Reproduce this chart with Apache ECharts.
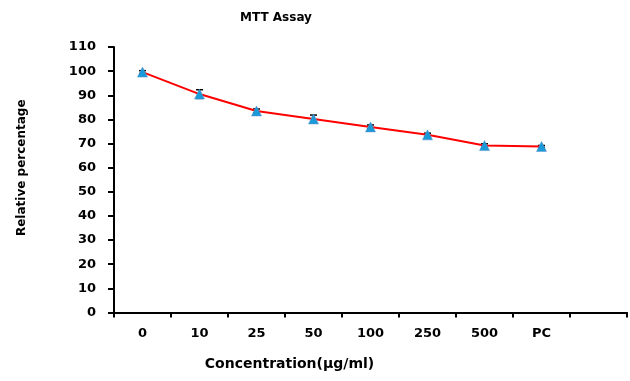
<!DOCTYPE html>
<html><head><meta charset="utf-8">
<script src="https://cdn.jsdelivr.net/npm/echarts@6/dist/echarts.min.js"></script>
<style>html,body{margin:0;padding:0;background:#fff}#c{width:630px;height:381px}</style>
</head><body><div id="c"></div>
<script>
var categories = ['0','10','25','50','100','250','500','PC',''];
var values = [99.6, 90.5, 83.5, 80.2, 76.9, 73.6, 69.2, 68.8];
var errors = [0.6, 1.8, 0.8, 1.6, 0.8, 0.7, 0.7, 0.4];
var yTicks = [0,10,20,30,40,50,60,70,80,90,100,110];

var font = 'DejaVu Sans';
var chart = echarts.init(document.getElementById('c'));
var errData = values.map(function(v,i){ return [i, v - errors[i], v + errors[i]]; });
chart.setOption({
  animation: false,
  title: { text: 'MTT Assay', left: 271, top: 7, textAlign: 'center',
    textStyle: { fontFamily: font, fontSize: 12, fontWeight: 'bold', color: '#000' } },
  grid: { left: 114, right: 3, top: 47, bottom: 68.5 },
  xAxis: {
    type: 'category', data: categories, boundaryGap: true,
    name: 'Concentration(μg/ml)', nameLocation: 'middle', nameGap: 45,
    nameTextStyle: { fontFamily: font, fontSize: 14, fontWeight: 'bold', color: '#000', padding: [0, 162, 0, 0] },
    axisLine: { lineStyle: { color: '#000', width: 2 } },
    axisTick: { show: true, length: 5, lineStyle: { color: '#000', width: 2 } },
    axisLabel: { fontFamily: font, fontSize: 13, fontWeight: 'bold', color: '#000', margin: 15 },
    splitLine: { show: false }
  },
  yAxis: {
    type: 'value', min: yTicks[0], max: yTicks[yTicks.length-1], interval: 10,
    name: 'Relative percentage', nameLocation: 'middle', nameGap: 86, nameRotate: 90,
    nameTextStyle: { fontFamily: font, fontSize: 12, fontWeight: 'bold', color: '#000', padding: [0, 0, 0, 24] },
    axisLine: { show: true, lineStyle: { color: '#000', width: 2 } },
    axisTick: { show: true, length: 6, lineStyle: { color: '#000', width: 2 } },
    axisLabel: { fontFamily: font, fontSize: 13, fontWeight: 'bold', color: '#000', margin: 18 },
    splitLine: { show: false }
  },
  series: [
    {
      type: 'custom', z: 1, data: errData,
      renderItem: function(params, api){
        var hi = api.coord([api.value(0), api.value(2)]);
        var lo = api.coord([api.value(0), api.value(1)]);
        var st = { stroke: '#000', lineWidth: 1.5 };
        return { type: 'group', children: [
          { type: 'line', shape: { x1: hi[0], y1: hi[1], x2: lo[0], y2: lo[1] }, style: st },
          { type: 'line', shape: { x1: hi[0]-3.5, y1: hi[1], x2: hi[0]+3.5, y2: hi[1] }, style: st },
          { type: 'line', shape: { x1: lo[0]-3.5, y1: lo[1], x2: lo[0]+3.5, y2: lo[1] }, style: st }
        ]};
      }
    },
    {
      type: 'line', z: 2, data: values,
      lineStyle: { color: '#ff0000', width: 2 },
      symbol: 'triangle', symbolSize: 10,
      itemStyle: { color: '#1a9ad8', borderColor: '#5b8fc9', borderWidth: 0.5 }
    }
  ]
});
</script></body></html>
